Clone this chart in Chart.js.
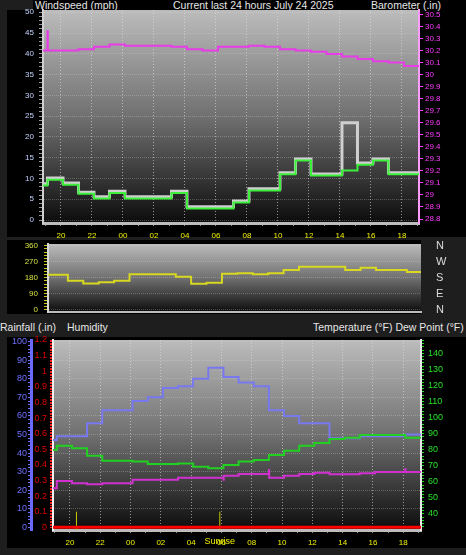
<!DOCTYPE html>
<html>
<head>
<meta charset="utf-8">
<script src="https://cdn.jsdelivr.net/npm/chart.js@4"></script>
<style>
  html, body { margin: 0; padding: 0; background: #1e1e1e; }
  body { width: 466px; height: 555px; position: relative; overflow: hidden; }
  .blk { position: absolute; background: #000; }
  .lbl { position: absolute; color: #e6e6e6; font: 10.5px "Liberation Sans", sans-serif; line-height: 12px; white-space: nowrap; }
  canvas { position: absolute; left: 0; }
</style>
</head>
<body>
<div class="blk" style="left:33px;top:0;width:433px;height:10px"></div>
<div class="blk" style="left:7px;top:10px;width:459px;height:227px"></div>
<div class="blk" style="left:7px;top:240px;width:414px;height:74px"></div>
<div class="blk" style="left:7px;top:337px;width:459px;height:211px"></div>

<div class="lbl" style="left:35px;top:-1px">Windspeed (mph)</div>
<div class="lbl" style="left:173px;top:-1px">Current last 24 hours July 24 2025</div>
<div class="lbl" style="left:371px;top:-1px">Barometer (.in)</div>
<div class="lbl" style="left:0;top:321px">Rainfall (.in)</div>
<div class="lbl" style="left:67px;top:321px">Humidity</div>
<div class="lbl" style="left:313px;top:321px">Temperature (°F) Dew Point (°F)</div>

<canvas id="windChart" style="top:0" width="466" height="238"></canvas>
<canvas id="dirChart" style="top:228px" width="466" height="102"></canvas>
<canvas id="weatherChart" style="top:325px" width="466" height="230"></canvas>

<script>
// hours since 19:00 (July 23) at which each hourly reading starts
const hourStart = [-0.2, 0.13, 1.13, 2.13, 3.13, 4.13, 5.13, 6.13, 7.13, 8.13, 9.13, 10.13,
  11.13, 12.13, 13.13, 14.13, 15.13, 16.13, 17.13, 18.13, 19.13, 20.13, 21.13, 22.13, 23.13];
const hourLabels = ["20", "22", "00", "02", "04", "06", "08", "10", "12", "14", "16", "18"];

const windAvg  = [8.3, 9.7, 8.5, 6.3, 5.2, 6.5, 5.2, 5.2, 5.2, 6.5, 2.8, 2.8, 2.8, 4.2, 7.1, 7.1, 11.0, 14.3, 10.7, 10.7, 11.9, 13.3, 14.3, 11.0, 11.0];
const windGust = [8.7, 10.1, 8.9, 6.7, 5.6, 6.9, 5.6, 5.6, 5.6, 6.9, 3.2, 3.2, 3.2, 4.6, 7.5, 7.5, 11.4, 14.7, 11.1, 11.1, 23.4, 13.7, 14.7, 11.4, 11.4];
const barometer = [30.20, 30.20, 30.20, 30.21, 30.23, 30.25, 30.24, 30.24, 30.24, 30.23, 30.21, 30.20, 30.23,
  30.23, 30.24, 30.23, 30.21, 30.20, 30.19, 30.17, 30.15, 30.13, 30.11, 30.10, 30.07];
const baroSpikes = [[0.13, 30.36]];

const windDir = [197, 197, 163, 148, 155, 163, 199, 199, 199, 186, 146, 152, 202, 205, 199, 205, 223, 242, 242, 242, 223, 236, 223, 223, 212];
const compassAt = [0, 90, 180, 270, 360];
const compassLabels = ["N", "E", "S", "W", "N"];

const humidity    = [47, 49, 49, 56, 63, 63, 68, 70, 75, 76, 80, 86, 81, 78, 76, 63, 60, 56, 56, 48, 48, 49, 49, 49, 50];
const rainfall    = [0, 0, 0, 0, 0, 0, 0, 0, 0, 0, 0, 0, 0, 0, 0, 0, 0, 0, 0, 0, 0, 0, 0, 0, 0];
const temperature = [79.8, 82.5, 80.9, 76.3, 73.2, 73.2, 72.6, 71.1, 71.1, 71.5, 69.4, 68.4, 70.5, 72.6, 73.6, 76.7, 79.4, 82.5, 84.2, 86.7, 87.5, 89.2, 89.2, 89.2, 87.5];
const dewPoint    = [56.0, 60.5, 59.1, 58.5, 59.1, 59.1, 61.3, 61.3, 61.3, 62.6, 62.6, 62.6, 63.8, 64.9, 64.9, 62.6, 63.8, 64.9, 65.7, 64.7, 64.7, 65.3, 66.1, 66.1, 66.1];
const dewSpikes   = [[11.13, 61.3], [14.13, 67.4], [23.13, 67.8]];
const sunTimes  = [1.43, 10.89];   // sunset 20:26, sunrise 05:53
const sunLabels = ["", "Sunrise"];

const SMALL = 'Liberation Sans';
const GRID = 'rgba(225,225,225,0.6)';
const HGRID = 'rgba(225,225,225,0.28)';

// hourly readings held until the next one, with short spikes where they happen
function steps(values, end, spikes) {
  const pts = [];
  values.forEach((v, i) => {
    const sp = (spikes || []).find(s => s[0] === hourStart[i]);
    if (sp) pts.push({ x: hourStart[i], y: sp[1] });
    pts.push({ x: hourStart[i] + (sp ? 0.02 : 0), y: v });
  });
  pts.push({ x: end, y: values[values.length - 1] });
  return pts;
}

function tickRange(from, to, step) {
  const out = [];
  for (let v = from; v <= to + 1e-9; v += step) out.push({ value: Math.round(v * 1000) / 1000 });
  return out;
}
const isMult = (v, m) => Math.abs(v / m - Math.round(v / m)) < 1e-6;

function timeAxis(min, max, height, showLabels) {
  return {
    type: 'linear', min: min, max: max,
    afterBuildTicks: s => { s.ticks = tickRange(0, 24, 1); },
    afterFit: s => { s.height = height; },
    ticks: {
      display: showLabels, autoSkip: false, maxRotation: 0, padding: 5,
      color: '#f0f000', font: { family: SMALL, size: 8 },
      callback: v => isMult(v - 1, 2) ? hourLabels[(v - 1) / 2] : ''
    },
    grid: {
      color: c => showLabels && c.tick && isMult(c.tick.value - 1, 2) ? GRID : 'transparent',
      tickColor: '#8c8c8c', tickLength: 3, drawTicks: showLabels
    },
    border: { color: '#bdbdbd', width: showLabels ? 3 : 2, dash: [1, 2] }
  };
}

function valueAxis(o) {
  return {
    position: o.position, min: o.min, max: o.max, weight: o.weight || 0,
    afterBuildTicks: s => { s.ticks = tickRange(o.from, o.to, o.step); },
    afterFit: s => { s.width = o.width; },
    ticks: {
      autoSkip: false, padding: o.padding, color: o.color,
      font: { family: SMALL, size: o.size || 8 },
      callback: v => isMult(v, o.label) ? String(Math.round(v * 10) / 10) : ''
    },
    grid: {
      drawOnChartArea: !!o.grid,
      color: c => o.grid && c.tick && isMult(c.tick.value, o.grid) ? HGRID : 'transparent',
      tickColor: o.tickColor || o.color, tickLength: o.tickLength || 3
    },
    border: { color: o.border, width: o.borderWidth || 2, dash: [1, 1] }
  };
}

const panelBg = {
  id: 'panelBg',
  beforeDraw(chart) {
    const { ctx, chartArea: a } = chart;
    const g = ctx.createLinearGradient(0, a.top, 0, a.bottom);
    g.addColorStop(0, '#bcbcbc');
    g.addColorStop(0.5, '#707070');
    g.addColorStop(1, '#0c0c0c');
    ctx.save();
    ctx.fillStyle = g;
    ctx.fillRect(a.left, a.top, a.right - a.left, a.bottom - a.top);
    ctx.restore();
  }
};

const sunText = {
  id: 'sunText',
  afterDraw(chart) {
    const { ctx, scales: { x } } = chart;
    ctx.save();
    ctx.fillStyle = '#f0f000';
    ctx.font = '9px ' + SMALL;
    ctx.textAlign = 'center';
    ctx.textBaseline = 'top';
    sunTimes.forEach((t, i) => { if (sunLabels[i]) ctx.fillText(sunLabels[i], x.getPixelForValue(t), x.top + 7); });
    ctx.restore();
  }
};

const common = {
  responsive: false, animation: false, events: [],
  plugins: { legend: { display: false }, tooltip: { enabled: false } },
  elements: { point: { radius: 0 }, line: { tension: 0 } }
};

// Wind speed + barometer
new Chart(document.getElementById('windChart'), {
  type: 'line',
  data: {
    datasets: [
      { label: 'Wind speed', data: steps(windAvg, 24.3), yAxisID: 'y', borderColor: '#3cf03c', borderWidth: 2, stepped: true },
      { label: 'Gust', data: steps(windGust, 24.3), yAxisID: 'y', borderColor: '#cfcfcf', borderWidth: 3, stepped: true },
      { label: 'Barometer', data: steps(barometer, 24.3, baroSpikes), yAxisID: 'yBaro', borderColor: '#e83ce8', borderWidth: 2, stepped: true }
    ]
  },
  options: Object.assign({}, common, {
    layout: { padding: { top: 10, left: 0, right: 0, bottom: 0 } },
    scales: {
      x: timeAxis(-0.16, 24.1, 15, true),
      y: valueAxis({ position: 'left', min: -0.72, max: 50.55, from: 0, to: 50, step: 1, label: 5, grid: 5,
        width: 43, padding: 5, tickLength: 4, color: '#c4d4ff', tickColor: '#9a9a9a', border: '#d0d0d0' }),
      yBaro: valueAxis({ position: 'right', min: 28.767, max: 30.536, from: 28.8, to: 30.5, step: 0.1, label: 0.1,
        width: 47, padding: 2, tickLength: 4, color: '#ff3cff', border: '#ff9cff' })
    }
  }),
  plugins: [panelBg]
});

// Wind direction
new Chart(document.getElementById('dirChart'), {
  type: 'line',
  data: {
    datasets: [
      { label: 'Wind direction', data: steps(windDir, 24.3), yAxisID: 'y', borderColor: '#d8d820', borderWidth: 2, stepped: true }
    ]
  },
  options: Object.assign({}, common, {
    layout: { padding: { top: 16, left: 0, right: 0, bottom: 0 } },
    scales: {
      x: timeAxis(-0.16, 24.05, 18, false),
      y: valueAxis({ position: 'left', min: -13, max: 370, from: 0, to: 360, step: 18, label: 90, grid: 90,
        width: 48, padding: 6, tickLength: 4, color: '#d4e040', tickColor: '#c8c820', border: '#d8d8d8' }),
      yCompass: {
        position: 'right', min: -13, max: 370,
        afterBuildTicks: s => { s.ticks = compassAt.map(v => ({ value: v })); },
        afterFit: s => { s.width = 45; },
        ticks: { autoSkip: false, color: '#dcdcdc', padding: 0, font: { family: SMALL, size: 11 }, callback: (v, i) => compassLabels[i] },
        grid: { drawOnChartArea: false, tickLength: 15, tickColor: 'transparent' },
        border: { display: false }
      }
    }
  }),
  plugins: [panelBg]
});

// Rainfall, humidity, temperature, dew point
new Chart(document.getElementById('weatherChart'), {
  type: 'line',
  data: {
    datasets: [
      { label: 'Rainfall', data: steps(rainfall, 24.3), yAxisID: 'yRain', borderColor: '#ff0000', borderWidth: 3, stepped: true },
      { label: 'Temperature', data: steps(temperature, 24.3), yAxisID: 'yTemp', borderColor: '#22d022', borderWidth: 2, stepped: true },
      { label: 'Dew point', data: steps(dewPoint, 24.3, dewSpikes), yAxisID: 'yTemp', borderColor: '#d030d0', borderWidth: 2, stepped: true },
      { label: 'Humidity', data: steps(humidity, 24.3), yAxisID: 'yHum', borderColor: '#7878f0', borderWidth: 2, stepped: true }
    ].concat(sunTimes.map(t => ({
      label: 'Sun', data: [{ x: t, y: -0.02 }, { x: t, y: 0.1 }], yAxisID: 'yRain', borderColor: '#c8c800', borderWidth: 1
    })))
  },
  options: Object.assign({}, common, {
    layout: { padding: { top: 15, left: 0, right: 0, bottom: 0 } },
    scales: {
      x: timeAxis(-0.12, 24.17, 25, true),
      yRain: valueAxis({ position: 'left', weight: 0, min: -0.0173, max: 1.2, from: 0, to: 1.2, step: 0.01, label: 0.1,
        width: 22, padding: 3, size: 9, color: '#e00000', tickColor: '#ff2020', border: '#f0f0f0' }),
      yHum: valueAxis({ position: 'left', weight: 1, min: -1.45, max: 100.9, from: 0, to: 100, step: 2, label: 10, grid: 10,
        width: 31, padding: 1, size: 9, color: '#7070ff', border: '#6a6aff', borderWidth: 3 }),
      yTemp: valueAxis({ position: 'right', min: 30.04, max: 148.3, from: 32, to: 148, step: 2, label: 10,
        width: 45, padding: 4, size: 9, color: '#28e028', border: '#e8e8e8' })
    }
  }),
  plugins: [panelBg, sunText]
});
</script>
</body>
</html>
